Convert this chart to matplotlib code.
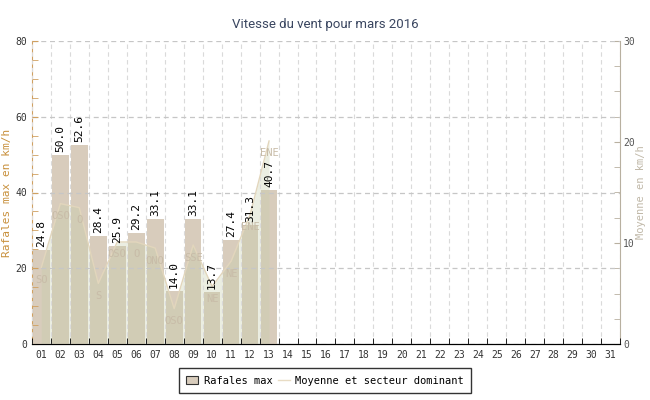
import matplotlib.pyplot as plt
import numpy as np
from matplotlib.patches import Patch
from matplotlib.lines import Line2D
from matplotlib.ticker import MultipleLocator

jours = ['%02d' % d for d in range(1, 32)]
rafales = [24.8, 50.0, 52.6, 28.4, 25.9, 29.2, 33.1, 14.0, 33.1, 13.7, 27.4, 31.3, 40.7]
moyenne = [7.6, 13.9, 13.5, 6.0, 10.1, 10.1, 9.5, 3.5, 9.8, 5.7, 8.2, 12.8, 20.1]
secteur = ['SO', 'OSO', 'O', 'S', 'OSO', 'O', 'ONO', 'OSO', 'SSE', 'NE', 'NE', 'ENE', 'ENE']

mono = 'DejaVu Sans Mono'
fig = plt.figure(figsize=(6.5, 4), dpi=100)
ax = fig.add_axes([0.049, 0.14, 0.905, 0.7575])
ax2 = ax.twinx()
ax.set_zorder(ax2.get_zorder() + 1)
ax.patch.set_visible(False)

x = np.arange(len(rafales))
ax.bar(x, rafales, width=0.88, color='#d8ccbc', zorder=1)
for xi, v in zip(x, rafales):
    ax.text(xi, v + 0.8, '%.1f' % v, rotation=90, ha='center', va='bottom',
            fontsize=8, family=mono, color='black', zorder=6)

# moyenne on right axis, fill drawn over bars
ax2.set_ylim(0, 30)
ax.set_ylim(0, 80)
scale = 80 / 30
ax.fill_between(x, 0, np.array(moyenne) * scale, color='#c4cca8', alpha=0.33, zorder=1.5, lw=0)
ax.plot(x, np.array(moyenne) * scale, color='#e2d6bc', lw=1, zorder=3)
for xi, m, s in zip(x, moyenne, secteur):
    ax.annotate(s, (xi, m * scale), xytext=(0, -9), textcoords='offset points',
                ha='center', va='center', fontsize=7.5, family=mono, color='#c8bca8', zorder=4)

ax.set_xlim(-0.5, 30.5)
ax.set_xticks(range(31))
ax.set_xticklabels(jours, family=mono, fontsize=7, color='#333333')
ax.set_xticks(np.arange(-0.5, 31, 1), minor=True)
ax.tick_params(axis='x', which='major', length=0, pad=4)
ax.tick_params(axis='x', which='minor', length=4, direction='in', color='black')
ax.yaxis.set_major_locator(MultipleLocator(20))
ax.yaxis.set_minor_locator(MultipleLocator(5))
ax.tick_params(axis='y', which='both', direction='in', color='#d0a060', length=4,
               labelsize=7, labelcolor='#333333')
for t in ax.get_yticklabels():
    t.set_family(mono)
ax.set_axisbelow(False)
ax.xaxis.grid(True, which='minor', ls=(0, (4, 3)), color='#dadada', lw=0.8)
ax.yaxis.grid(True, which='major', ls=(0, (4, 3)), color='#c6c6c6', lw=0.9)
ax.set_ylabel('Rafales max en km/h', family=mono, fontsize=8, color='#c8903c', labelpad=2)

ax2.yaxis.set_major_locator(MultipleLocator(10))
ax2.yaxis.set_minor_locator(MultipleLocator(2.5))
ax2.tick_params(axis='y', which='both', direction='in', color='#b8b0a0', length=4,
                labelsize=7, labelcolor='#555555', pad=2)
for t in ax2.get_yticklabels():
    t.set_family(mono)
ax2.set_ylabel('Moyenne en km/h', family=mono, fontsize=7.5, color='#c0b8a8', labelpad=1)

for a in (ax, ax2):
    a.spines['top'].set_visible(False)
    a.spines['left'].set_color('#d0a060')
    a.spines['right'].set_color('#b8b0a0')
    a.spines['bottom'].set_color('black')
    a.spines['bottom'].set_zorder(7)
ax.spines['right'].set_visible(False)
ax2.spines['left'].set_visible(False)

fig.suptitle('Vitesse du vent pour mars 2016', x=0.5, y=0.955, fontsize=9.5,
             family='Roboto', color='#3a4660')

handles = [Patch(facecolor='#d8ccbc', edgecolor='#333333', lw=0.8),
           Line2D([], [], color='#e8dcc4', lw=1)]
leg = fig.legend(handles, ['Rafales max', 'Moyenne et secteur dominant'], loc='lower center',
                 bbox_to_anchor=(0.5, 0.005), ncol=2, frameon=True, fancybox=False,
                 prop={'family': mono, 'size': 7.5}, handlelength=1.2, columnspacing=0.5,
                 handletextpad=0.5, borderpad=0.7)
leg.get_frame().set_edgecolor('black')
leg.get_frame().set_linewidth(1)

fig.savefig('out.png', dpi=100)
